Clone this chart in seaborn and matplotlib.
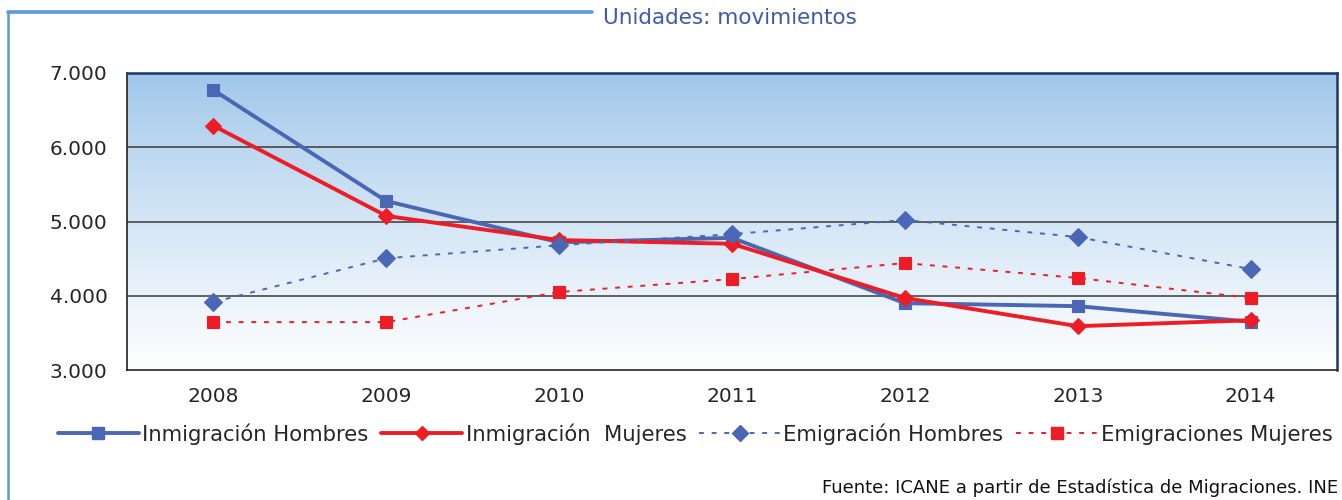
import numpy as np
import pandas as pd
import matplotlib
matplotlib.use("Agg")
import matplotlib.pyplot as plt
import seaborn as sns
from matplotlib.lines import Line2D
from matplotlib.ticker import FuncFormatter, MultipleLocator

# --- data ---
years = [2008, 2009, 2010, 2011, 2012, 2013, 2014]
inmig_hombres = [6770, 5275, 4720, 4780, 3900, 3860, 3650]
inmig_mujeres = [6290, 5075, 4750, 4700, 3970, 3590, 3670]
emig_hombres = [3915, 4505, 4680, 4830, 5020, 4790, 4360]
emig_mujeres = [3645, 3645, 4050, 4225, 4440, 4240, 3970]

labels = ["Inmigración Hombres", "Inmigración  Mujeres",
          "Emigración Hombres", "Emigraciones Mujeres"]

BLUE = "#4A67B5"
RED = "#EE1D25"

sns.set_style("white")
plt.rcParams["font.family"] = ["DejaVu Sans"]

fig = plt.figure(figsize=(13.42, 5.0), dpi=100)
ax = fig.add_axes([127 / 1342, 1 - 370 / 500, 1210 / 1342, 297 / 500])

# gradient background: light blue on top fading to white
top = np.array([158, 198, 233]) / 255
bot = np.array([255, 255, 255]) / 255
t = np.linspace(0, 1, 256) ** 0.85
grad = top[None, :] * (1 - t[:, None]) + bot[None, :] * t[:, None]
ax.imshow(grad[:, None, :], extent=[2007.5, 2014.5, 3000, 7000], origin="upper",
          aspect="auto", zorder=0)

series = [
    (inmig_hombres, BLUE, "-", "s", 2.8, 9),
    (inmig_mujeres, RED, "-", "D", 2.8, 8),
    (emig_hombres, BLUE, (0, (2.5, 4)), "D", 1.4, 9),
    (emig_mujeres, RED, (0, (2.5, 4)), "s", 1.4, 9),
]

handles = []
for (vals, col, ls, mk, lw, ms), lab in zip(series, labels):
    df = pd.DataFrame({"year": years, "value": vals})
    sns.lineplot(data=df, x="year", y="value", ax=ax, color=col, linestyle=ls,
                 linewidth=lw, marker=mk, markersize=ms, markeredgecolor=col,
                 markeredgewidth=0.8, zorder=3)
    handles.append(Line2D([0], [0], color=col, linestyle=ls, linewidth=lw,
                          marker=mk, markersize=ms - 1, markeredgecolor=col))

ax.set_xlim(2007.5, 2014.5)
ax.set_ylim(3000, 7000)
ax.yaxis.set_major_locator(MultipleLocator(1000))
ax.yaxis.set_major_formatter(FuncFormatter(lambda v, p: f"{int(v):,}".replace(",", ".")))
ax.set_xticks(years)
ax.set_xticklabels([str(y) for y in years])
ax.set_xticks(np.arange(2007.5, 2015, 1), minor=True)
ax.tick_params(axis="x", which="major", length=0, pad=12, labelsize=14.5)
ax.tick_params(axis="x", which="minor", length=6, width=1, color="#222222", direction="out")
ax.tick_params(axis="y", which="major", length=6, width=1, color="#222222",
               direction="out", labelsize=14.5, pad=8)
ax.set_xlabel(None)
ax.set_ylabel(None)

for y in [4000, 5000, 6000]:
    ax.axhline(y, color="#3a3a3a", linewidth=1.1, zorder=1)

for side in ["left", "bottom"]:
    ax.spines[side].set_color("#222222")
    ax.spines[side].set_linewidth(1.2)
for side in ["right", "top"]:
    ax.spines[side].set_color("#1F3864")
    ax.spines[side].set_linewidth(1.8)

fig.legend(handles, labels, loc="center", bbox_to_anchor=(695 / 1342, 1 - 434 / 500),
           ncol=4, frameon=False, fontsize=15.2, handlelength=3.85,
           handletextpad=0.15, columnspacing=0.6, borderaxespad=0, borderpad=0)

# frame lines and header text
fig.add_artist(Line2D([8 / 1342, 8 / 1342], [0, 1 - 12 / 500], color="#5B9BD5", linewidth=1.8))
fig.add_artist(Line2D([8 / 1342, 592 / 1342], [1 - 12 / 500, 1 - 12 / 500], color="#5B9BD5", linewidth=2.6))
fig.text(603 / 1342, 1 - 18 / 500, "Unidades: movimientos", color="#3F5BA9",
         fontsize=15.5, va="center", ha="left")
fig.text(1338 / 1342, 3 / 500, "Fuente: ICANE a partir de Estadística de Migraciones. INE",
         fontsize=13, va="bottom", ha="right", color="#111111")

fig.savefig("out.png", dpi=100)
